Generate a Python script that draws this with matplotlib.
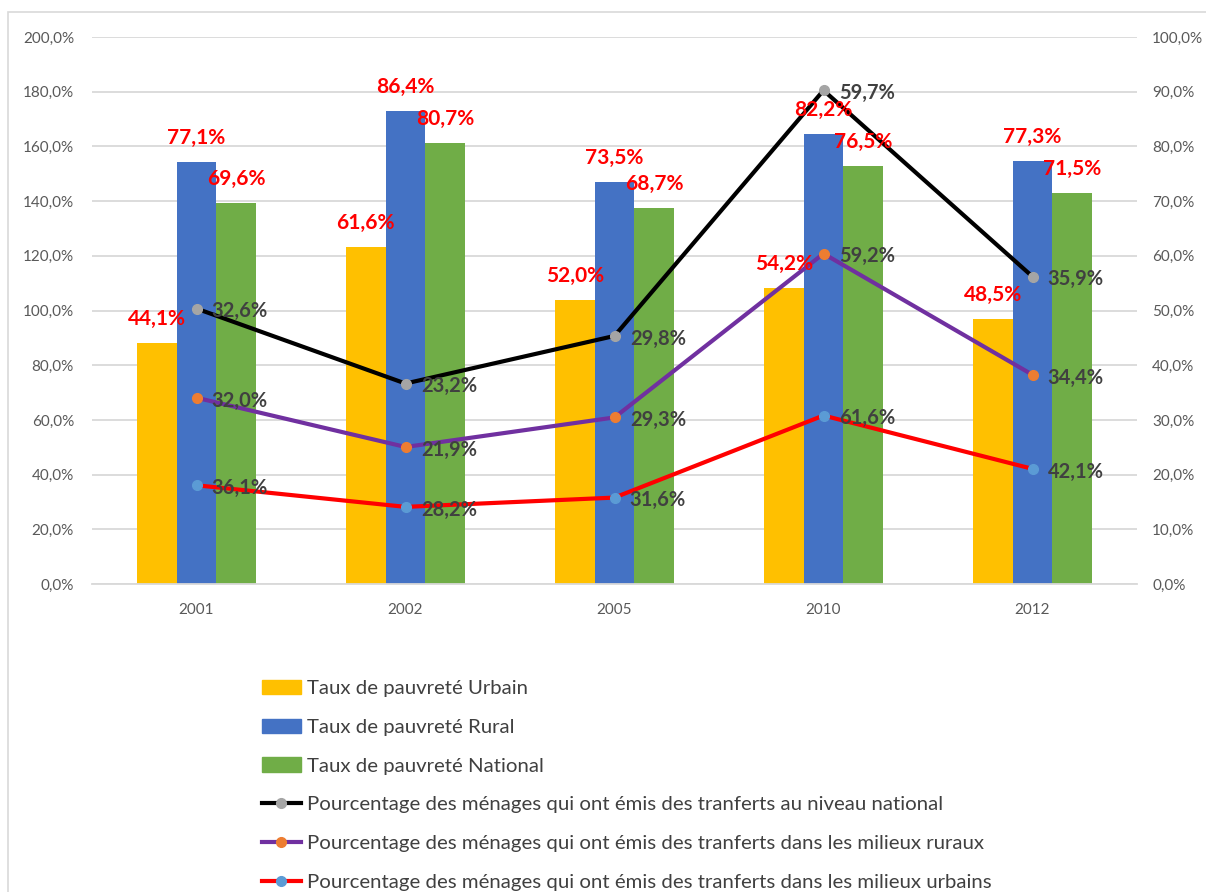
import matplotlib
matplotlib.use("Agg")
from matplotlib import pyplot as plt
from matplotlib.patches import Patch, Rectangle
from matplotlib.lines import Line2D

plt.rcParams['font.family'] = ['Lato', 'DejaVu Sans']

annees = ['2001', '2002', '2005', '2010', '2012']

# taux de pauvreté (axe de droite)
pauv_urbain = [44.1, 61.6, 52.0, 54.2, 48.5]
pauv_rural = [77.1, 86.4, 73.5, 82.2, 77.3]
pauv_national = [69.6, 80.7, 68.7, 76.5, 71.5]

# ménages ayant émis des transferts (courbes empilées, axe de gauche)
transf_urbain = [36.1, 28.2, 31.6, 61.6, 42.1]
transf_rural = [32.0, 21.9, 29.3, 59.2, 34.4]
transf_national = [32.6, 23.2, 29.8, 59.7, 35.9]

lbl_bars = ['Taux de pauvreté Urbain', 'Taux de pauvreté Rural', 'Taux de pauvreté National']
lbl_lines = ['Pourcentage des ménages qui ont émis des tranferts au niveau national',
             'Pourcentage des ménages qui ont émis des tranferts dans les milieux ruraux',
             'Pourcentage des ménages qui ont émis des tranferts dans les milieux urbains']

bar_colors = ['#FFC000', '#4472C4', '#70AD47']
line_colors = ['#000000', '#7030A0', '#FF0000']
marker_colors = ['#A5A5A5', '#ED7D31', '#5B9BD5']
grey_txt = '#595959'
lab_txt = '#404040'

fig = plt.figure(figsize=(12.06, 8.92), dpi=100)
fig.patches.append(Rectangle((8 / 1206, -0.1), 1.2, 1 - 12 / 892 + 0.1, transform=fig.transFigure,
                             fill=False, edgecolor='#D9D9D9', linewidth=1.2))

ax2 = fig.add_axes([92 / 1206, 1 - 584 / 892, 1045 / 1206, 547 / 892])
ax = ax2.twinx()
ax.set_zorder(ax2.get_zorder() + 1)
ax.patch.set_visible(False)

x = list(range(len(annees)))
w = 0.19
series = [pauv_urbain, pauv_rural, pauv_national]
for i, vals in enumerate(series):
    xs = [xi + (i - 1) * w for xi in x]
    ax2.bar(xs, vals, width=w, color=bar_colors[i], zorder=2)

ax2.set_ylim(0, 100)
ax2.set_xlim(-0.5, len(annees) - 0.5)
ax2.set_yticks(range(0, 101, 10))
ax2.yaxis.tick_right()
ax2.set_yticklabels([f"{v:.1f}%".replace('.', ',') for v in range(0, 101, 10)])
ax2.grid(axis='y', color='#D9D9D9', linewidth=1.3)
ax2.set_axisbelow(True)
ax2.set_xticks(x)
ax2.set_xticklabels(annees)

# courbes empilées
cum1 = transf_urbain
cum2 = [a + b for a, b in zip(cum1, transf_rural)]
cum3 = [a + b for a, b in zip(cum2, transf_national)]
stack = [(cum3, transf_national), (cum2, transf_rural), (cum1, transf_urbain)]
for i, (ys, vals) in enumerate(stack):
    ax.plot(x, ys, color=line_colors[i], linewidth=3, marker='o', markersize=7,
            markerfacecolor=marker_colors[i], markeredgecolor=marker_colors[i], zorder=3)
    for xi, yi, v in zip(x, ys, vals):
        ax.annotate(f"{v:.1f}%".replace('.', ','), (xi, yi), xytext=(11, -2),
                    textcoords='offset points', ha='left', va='center',
                    fontsize=14.5, fontweight='bold', color=lab_txt, zorder=5)

ax.set_ylim(0, 200)
ax.set_yticks(range(0, 201, 20))
ax.yaxis.tick_left()
ax.set_yticklabels([f"{v:.1f}%".replace('.', ',') for v in range(0, 201, 20)])

# étiquettes des barres (en rouge, au-dessus de tout)
for i, vals in enumerate(series):
    for xi, v in zip(x, vals):
        ax.annotate(f"{v:.1f}%".replace('.', ','), (xi + (i - 1) * w, v), xycoords=ax2.transData,
                    xytext=(0, 13), textcoords='offset points', ha='center', va='baseline',
                    fontsize=15, fontweight='bold', color='#FF0000', zorder=6)

for a in (ax, ax2):
    for s in ['top', 'left', 'right', 'bottom']:
        a.spines[s].set_visible(False)
    a.tick_params(length=0, labelsize=11, colors=grey_txt)
ax2.spines['bottom'].set_visible(True)
ax2.spines['bottom'].set_color('#D9D9D9')
ax2.spines['bottom'].set_linewidth(1.3)
ax.tick_params(axis='y', pad=13)
ax2.tick_params(axis='y', pad=11)
ax2.tick_params(axis='x', pad=14)

handles = [Patch(color=c) for c in bar_colors]
handles += [Line2D([0], [0], color=line_colors[i], linewidth=3, marker='o', markersize=7,
                   markerfacecolor=marker_colors[i], markeredgecolor=marker_colors[i])
            for i in range(3)]
fig.legend(handles, lbl_bars + lbl_lines, loc='upper left',
           bbox_to_anchor=(262 / 1206, 1 - 680 / 892), frameon=False,
           fontsize=14.7, labelcolor=lab_txt, handlelength=1.9, handletextpad=0.3,
           labelspacing=1.05, borderaxespad=0, borderpad=0)

fig.savefig('out.png', dpi=100)
